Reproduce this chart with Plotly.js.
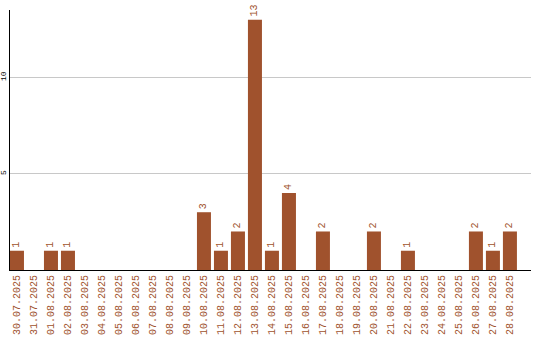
<!DOCTYPE html>
<html>
<head>
<meta charset="utf-8">
<script src="https://cdn.plot.ly/plotly-3.0.1.min.js"></script>
<style>html,body{margin:0;padding:0;background:#fff;}#chart{width:540px;height:340px;}</style>
</head>
<body>
<div id="chart"></div>
<script>
const dates = ["30.07.2025","31.07.2025","01.08.2025","02.08.2025","03.08.2025","04.08.2025","05.08.2025","06.08.2025","07.08.2025","08.08.2025","09.08.2025","10.08.2025","11.08.2025","12.08.2025","13.08.2025","14.08.2025","15.08.2025","16.08.2025","17.08.2025","18.08.2025","19.08.2025","20.08.2025","21.08.2025","22.08.2025","23.08.2025","24.08.2025","25.08.2025","26.08.2025","27.08.2025","28.08.2025"];
const counts = [1,0,1,1,0,0,0,0,0,0,0,3,1,2,13,1,4,0,2,0,0,2,0,1,0,0,0,2,1,2];
const yTicks = [5,10];

const labels = counts.map(v => v > 0 ? String(v) : "");
const barColor = "#a0522d";
const mono = "Liberation Mono, DejaVu Sans Mono, monospace";

Plotly.newPlot("chart", [{
  type: "bar",
  x: dates,
  y: counts,
  text: labels,
  textposition: "outside",
  textangle: -90,
  cliponaxis: false,
  textfont: {family: mono, size: 10, color: barColor},
  marker: {color: barColor},
  hoverinfo: "none"
}], {
  width: 540, height: 340,
  margin: {l: 10, r: 9, t: 10, b: 70},
  paper_bgcolor: "#fff", plot_bgcolor: "#fff",
  showlegend: false,
  bargap: 0.176,
  xaxis: {
    type: "category",
    range: [-0.41, 30.24],
    tickangle: -90,
    tickfont: {family: mono, size: 10, color: barColor},
    showline: true, linecolor: "#000", linewidth: 1,
    showgrid: false, ticks: "", zeroline: false
  },
  yaxis: {
    range: [0, 13.5],
    tickvals: yTicks,
    ticktext: yTicks.map(String),
    tickangle: -90,
    tickfont: {family: mono, size: 8, color: "#000"},
    showline: true, linecolor: "#000", linewidth: 1,
    showgrid: true, gridcolor: "#c8c8c8", gridwidth: 1,
    zeroline: false, ticks: ""
  }
}, {staticPlot: true, displayModeBar: false});
</script>
</body>
</html>
